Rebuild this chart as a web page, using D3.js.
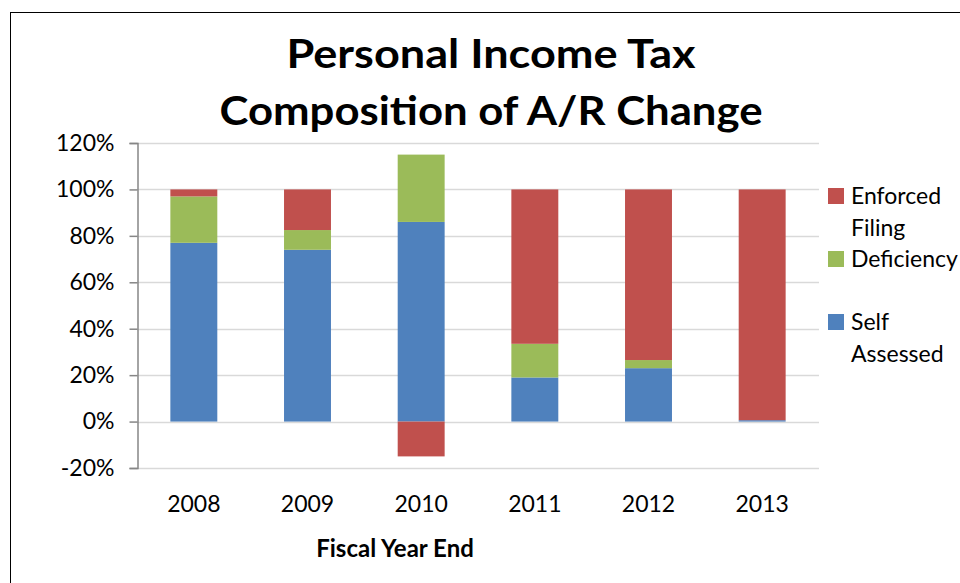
<!DOCTYPE html>
<html>
<head>
<meta charset="utf-8">
<script src="https://cdn.jsdelivr.net/npm/d3@7"></script>
<style>
  html, body { margin: 0; padding: 0; background: #fff; }
  svg { display: block; }
  text { font-family: Lato, "Open Sans", sans-serif; fill: #000; }
</style>
</head>
<body>
<svg id="chart" width="960" height="583"></svg>
<script>
// ---- data ----
const years = ["2008", "2009", "2010", "2011", "2012", "2013"];
const selfAssessed   = [0.77, 0.74, 0.86, 0.19, 0.23, 0.006];
const deficiency     = [0.20, 0.085, 0.29, 0.145, 0.035, 0.0];
const enforcedFiling = [0.03, 0.175, -0.15, 0.665, 0.735, 0.994];
const seriesNames = ["Self Assessed", "Deficiency", "Enforced Filing"];
const yTicks = [-0.2, 0, 0.2, 0.4, 0.6, 0.8, 1.0, 1.2];
const titleLines = ["Personal Income Tax", "Composition of A/R Change"];
const xAxisTitle = "Fiscal Year End";

// ---- layout ----
const W = 960, H = 583;
const plot = { left: 137, right: 819, top: 143, bottom: 468 };
const colors = { "Self Assessed": "#4F81BD", "Deficiency": "#9BBB59", "Enforced Filing": "#C0504D" };
const titleWidths = [409, 543];

const svg = d3.select("#chart");

// outer chart border (extends beyond canvas on right/bottom)
svg.append("rect")
  .attr("x", 10.5).attr("y", 12.5)
  .attr("width", W + 20).attr("height", H + 20)
  .attr("fill", "#fff").attr("stroke", "#000").attr("stroke-width", 1);

const table = years.map((y, i) => ({
  year: y,
  "Self Assessed": selfAssessed[i],
  "Deficiency": deficiency[i],
  "Enforced Filing": enforcedFiling[i]
}));

const x = d3.scaleBand().domain(years)
  .range([plot.left, plot.right])
  .paddingInner(0.587).paddingOuter(0.2935);
const y = d3.scaleLinear().domain([-0.2, 1.2]).range([plot.bottom, plot.top]);

// gridlines
svg.append("g").selectAll("line").data(yTicks).join("line")
  .attr("x1", plot.left).attr("x2", plot.right)
  .attr("y1", d => Math.round(y(d)) + 0.5).attr("y2", d => Math.round(y(d)) + 0.5)
  .attr("stroke", "#D9D9D9").attr("stroke-width", 1.5);

// stacked bars
const stack = d3.stack().keys(seriesNames).offset(d3.stackOffsetDiverging);
const layers = stack(table);
svg.append("g").selectAll("g").data(layers).join("g")
  .attr("fill", d => colors[d.key])
  .selectAll("rect").data(d => d).join("rect")
  .attr("x", d => x(d.data.year))
  .attr("width", x.bandwidth())
  .attr("y", d => y(Math.max(d[0], d[1])))
  .attr("height", d => Math.abs(y(d[0]) - y(d[1])));

// y axis
const pct = d3.format(".0%");
const yAxis = d3.axisLeft(y).tickValues(yTicks)
  .tickFormat(d => pct(d).replace("\u2212", "-"))
  .tickSize(8).tickPadding(15);
const gy = svg.append("g").attr("transform", `translate(${plot.left + 0.5},0)`).call(yAxis);
gy.select(".domain").attr("stroke", "#868686").attr("stroke-width", 1.5);
gy.selectAll(".tick line").attr("stroke", "#868686").attr("stroke-width", 1.5);
gy.selectAll(".tick text").attr("font-size", 23).attr("font-family", "Lato, sans-serif").attr("fill", "#000");

// x axis labels
const xAxis = d3.axisBottom(x).tickSize(0).tickPadding(0);
const gx = svg.append("g").attr("transform", `translate(0,${plot.bottom})`).call(xAxis);
gx.select(".domain").remove();
gx.selectAll(".tick text").attr("font-size", 23).attr("font-family", "Lato, sans-serif")
  .attr("fill", "#000").attr("dy", null).attr("y", 44);

// x axis title
svg.append("text").attr("x", 395).attr("y", 557).attr("text-anchor", "middle")
  .attr("font-size", 24).attr("font-weight", "bold").text(xAxisTitle);

// title
svg.append("g").selectAll("text").data(titleLines).join("text")
  .attr("x", 491).attr("y", (d, i) => 68 + i * 57)
  .attr("text-anchor", "middle").attr("font-size", 41).attr("font-weight", "bold")
  .attr("textLength", (d, i) => titleWidths[i])
  .attr("lengthAdjust", "spacingAndGlyphs")
  .text(d => d);

// legend
const legendItems = [
  { key: "Enforced Filing", lines: ["Enforced", "Filing"], y: 204 },
  { key: "Deficiency", lines: ["Deficiency"], y: 267 },
  { key: "Self Assessed", lines: ["Self", "Assessed"], y: 330 }
];
const lg = svg.append("g").selectAll("g").data(legendItems).join("g");
lg.append("rect").attr("x", 828).attr("y", d => d.y - 16).attr("width", 16).attr("height", 16)
  .attr("fill", d => colors[d.key]);
lg.append("text").attr("x", 851).attr("y", d => d.y).attr("font-size", 23)
  .selectAll("tspan").data(d => d.lines).join("tspan")
  .attr("x", 851).attr("dy", (d, i) => i === 0 ? 0 : 32).text(d => d);
</script>
</body>
</html>
